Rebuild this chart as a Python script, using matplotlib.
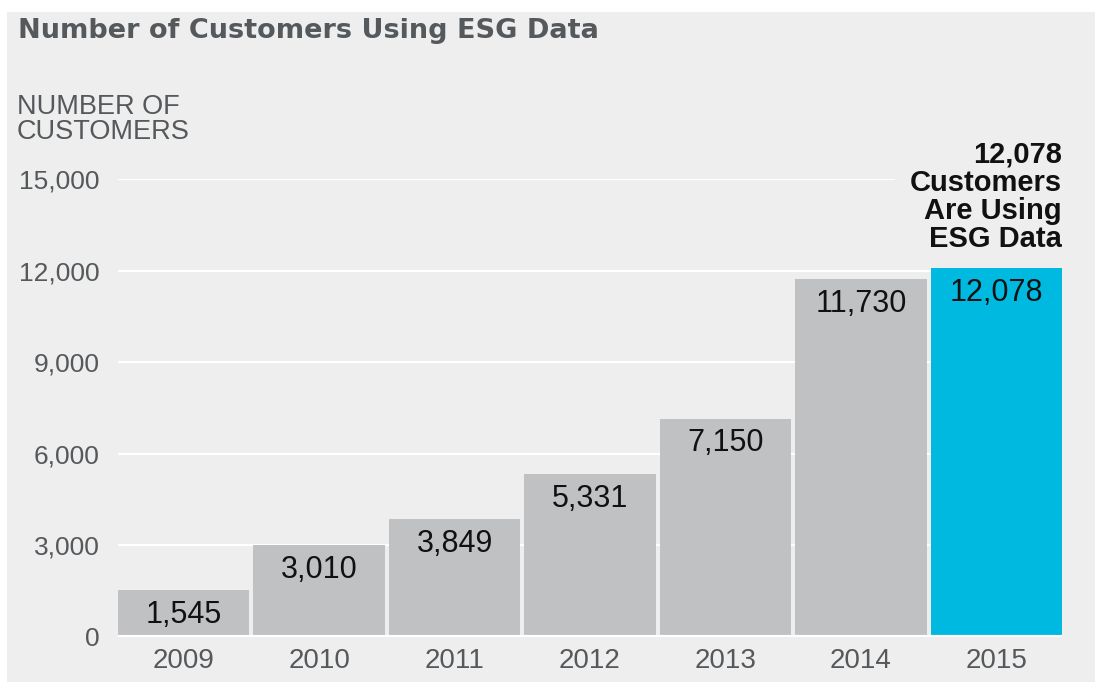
#!/usr/bin/env python3
"""Bar chart: number of customers using ESG data, 2009-2015."""

import matplotlib

matplotlib.use("Agg")
import matplotlib.pyplot as plt
from matplotlib.patches import Rectangle
from matplotlib.ticker import FuncFormatter

years = ["2009", "2010", "2011", "2012", "2013", "2014", "2015"]
customers = [1545, 3010, 3849, 5331, 7150, 11730, 12078]
highlight = "2015"
y_ticks = [0, 3000, 6000, 9000, 12000, 15000]

BG = "#eeeeee"
GREY_BAR = "#c0c1c3"
CYAN = "#00b9e1"
TEXT_GREY = "#55595c"


def main() -> None:
    plt.rcParams.update(
        {
            "font.family": ["Liberation Sans", "DejaVu Sans"],
        }
    )
    fig = plt.figure(figsize=(10.95, 6.82), dpi=100)
    fig.patch.set_facecolor("white")
    fig.patches.append(
        Rectangle((7 / 1095, 0), 1 - 7 / 1095, 1 - 12 / 682,
                  transform=fig.transFigure, facecolor=BG, edgecolor="none", zorder=-10)
    )

    ax = fig.add_axes([118 / 1095, 1 - 637 / 682, (1062 - 118) / 1095, (637 - 179) / 682])
    ax.set_facecolor("none")

    x = list(range(len(years)))
    colors = [CYAN if yr == highlight else GREY_BAR for yr in years]
    width = 0.97
    ax.bar(x, customers, width, color=colors, zorder=3)

    for xi, v in zip(x, customers):
        ax.annotate(f"{v:,}", xy=(xi, v), xytext=(0, -7), textcoords="offset points",
                    ha="center", va="top", fontsize=22, color="#111111", zorder=4)

    # gridlines and baseline
    for t in y_ticks[1:]:
        ax.axhline(t, color="white", linewidth=1.6, zorder=1)
    ax.axhline(0, color="white", linewidth=3, zorder=4)

    ax.set_xlim(-width / 2, len(years) - 1 + width / 2)
    ax.set_ylim(0, 15000)
    ax.set_yticks(y_ticks)
    ax.yaxis.set_major_formatter(FuncFormatter(lambda v, _: f"{int(v):,}"))
    ax.set_xticks(x, years)
    ax.tick_params(axis="y", length=0, pad=13, labelsize=19, labelcolor=TEXT_GREY)
    ax.tick_params(axis="x", length=0, pad=8, labelsize=20, labelcolor=TEXT_GREY)
    for s in ax.spines.values():
        s.set_visible(False)

    # callout above highlighted bar
    hi = years.index(highlight)
    ax.annotate(f"{customers[hi]:,}\nCustomers\nAre Using\nESG Data",
                xy=(hi + width / 2, customers[hi]), xytext=(0, 11), textcoords="offset points",
                ha="right", va="bottom", fontsize=21, fontweight="bold", color="#111111",
                linespacing=1.0, zorder=5,
                bbox=dict(boxstyle="square,pad=0.5", facecolor=BG, edgecolor="none"))

    fig.text(18 / 1095, 1 - 31 / 682, "Number of Customers Using ESG Data",
             ha="left", va="center", fontsize=19.5, fontweight="bold", color=TEXT_GREY,
             family="DejaVu Sans")
    fig.text(17 / 1095, 1 - 94 / 682, "NUMBER OF\nCUSTOMERS", ha="left", va="top",
             fontsize=19.5, color=TEXT_GREY, linespacing=0.95)

    fig.savefig("out.png", dpi=100, facecolor=fig.get_facecolor())
    plt.close(fig)


if __name__ == "__main__":
    main()
